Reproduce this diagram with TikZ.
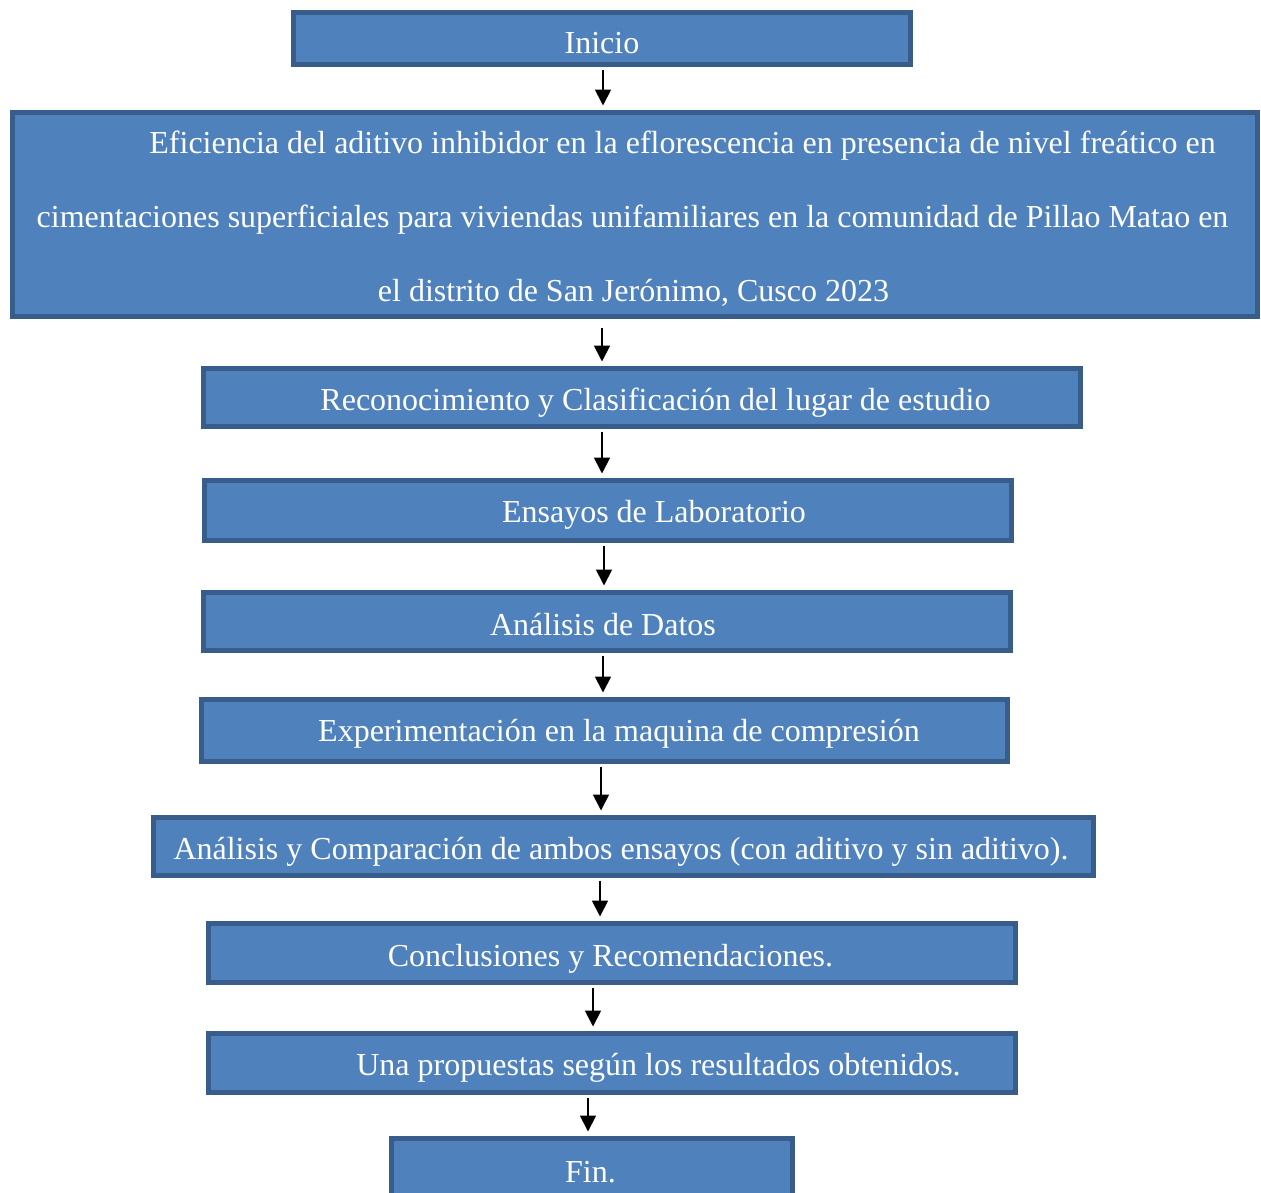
\documentclass[tikz,border=0pt]{standalone}
\usepackage{fontspec}
\setmainfont{Liberation Serif}
\usetikzlibrary{arrows.meta}
\definecolor{boxfill}{HTML}{4F81BD}
\definecolor{boxline}{HTML}{385D8A}
\tikzset{
  box/.style={draw=boxline, fill=boxfill, line width=5pt, inner sep=0pt, rectangle},
  lbl/.style={text=white, anchor=base, inner sep=0pt, font=\fontsize{32}{38}\selectfont},
  arr/.style={line width=1.8pt, -{Triangle[width=16pt,length=16pt]}, shorten <=2.5pt, shorten >=4.5pt}
}
\begin{document}
\begin{tikzpicture}[x=1pt,y=-1pt]
\clip (0,0) rectangle (1261,1192);
\useasboundingbox (0,0) rectangle (1261,1192);
\fill[white] (0,0) rectangle (1261,1192);

\node[box, minimum width=617, minimum height=52] (n1) at (602,38.5) {};
\node[box, minimum width=1245, minimum height=204] (n2) at (635,214.5) {};
\node[box, minimum width=877, minimum height=58] (n3) at (642,397.5) {};
\node[box, minimum width=807, minimum height=60] (n4) at (608,510.5) {};
\node[box, minimum width=807, minimum height=58] (n5) at (607,621.5) {};
\node[box, minimum width=806, minimum height=62] (n6) at (604.5,730.5) {};
\node[box, minimum width=940, minimum height=58] (n7) at (623.5,846.5) {};
\node[box, minimum width=807, minimum height=59] (n8) at (612,953) {};
\node[box, minimum width=807, minimum height=59] (n9) at (612,1063) {};
\node[box, minimum width=401, minimum height=69] (n10) at (592,1173) {};

\node[lbl] (t1) at (602,53) {Inicio};
\node[lbl] (t2a) at (682.5,153) {Eficiencia del aditivo inhibidor en la eflorescencia en presencia de nivel freático en};
\node[lbl] (t2b) at (632.5,227) {cimentaciones superficiales para viviendas unifamiliares en la comunidad de Pillao Matao en};
\node[lbl] (t2c) at (633.5,301) {el distrito de San Jerónimo, Cusco 2023};
\node[lbl] (t3) at (655.5,410) {Reconocimiento y Clasificación del lugar de estudio};
\node[lbl] (t4) at (654,522) {Ensayos de Laboratorio};
\node[lbl] (t5) at (603,635) {Análisis de Datos};
\node[lbl] (t6) at (619,741) {Experimentación en la maquina de compresión};
\node[lbl] (t7) at (621,859) {Análisis y Comparación de ambos ensayos (con aditivo y sin aditivo).};
\node[lbl] (t8) at (610.5,966) {Conclusiones y Recomendaciones.};
\node[lbl] (t9) at (658.5,1075) {Una propuestas según los resultados obtenidos.};
\node[lbl] (t10) at (590.5,1182) {Fin.};

\draw[arr] ([xshift=1]n1.south) -- ([xshift=-32]n2.north);
\draw[arr, shorten <=8.5pt] ([xshift=-33]n2.south) -- ([xshift=-40]n3.north);
\draw[arr] ([xshift=-40]n3.south) -- ([xshift=-6]n4.north);
\draw[arr] ([xshift=-4]n4.south) -- ([xshift=-3]n5.north);
\draw[arr] ([xshift=-4]n5.south) -- ([xshift=-1.5]n6.north);
\draw[arr] ([xshift=-3.5]n6.south) -- ([xshift=-22.5]n7.north);
\draw[arr] ([xshift=-23.5]n7.south) -- ([xshift=-12]n8.north);
\draw[arr] ([xshift=-19]n8.south) -- ([xshift=-19]n9.north);
\draw[arr] ([xshift=-24]n9.south) -- ([xshift=-4]n10.north);
\end{tikzpicture}
\end{document}
